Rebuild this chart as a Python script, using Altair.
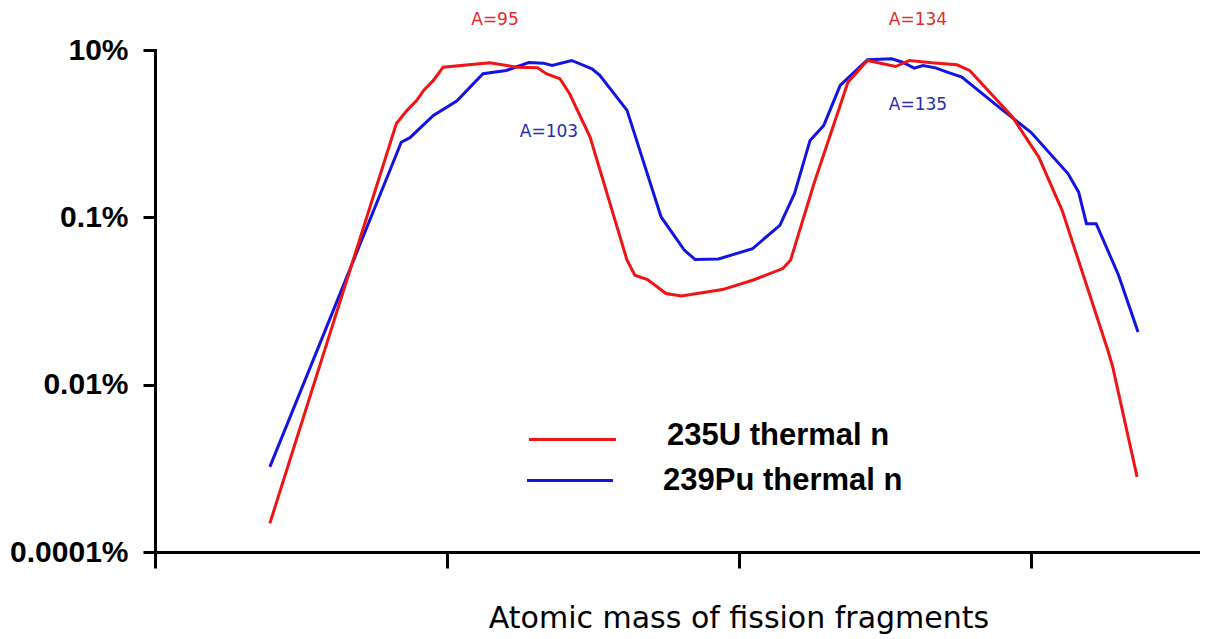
import altair as alt
import pandas as pd

# ---- data ----
u235_mass = [71.8, 84.8, 85.9, 86.9, 87.6, 88.6, 89.6, 94.4, 97.2, 99.3, 100.2, 101.6,
             102.6, 104.7, 108.5, 109.3, 110.6, 112.5, 114.1, 118.3, 121.4, 124.5, 125.3,
             127.7, 131.2, 133.2, 136.1, 137.5, 139.8, 142.4, 143.7, 148.1, 150.8, 153.2,
             157.9, 158.4, 160.9]
u235_yield = [2.2e-5, 1.32, 1.90, 2.50, 3.28, 4.33, 6.24, 7.03, 6.24, 6.12, 5.20, 4.53,
              3.00, 0.91, 0.0307, 0.0203, 0.018, 0.0123, 0.0115, 0.0137, 0.0177, 0.0244, 0.0307,
              0.252, 4.13, 7.50, 6.35, 7.50, 7.03, 6.66, 5.69, 1.58, 0.525, 0.121,
              0.00258, 0.00163, 7.9e-5]

pu239_mass = [71.8, 77.5, 85.3, 86.2, 88.6, 91.0, 93.7, 96.1, 98.4, 99.9, 100.8, 102.8,
              104.9, 105.7, 108.5, 112.0, 114.4, 115.5, 117.9, 121.4, 124.2, 125.7, 127.3,
              128.7, 130.4, 133.2, 135.7, 136.8, 138.0, 138.9, 140.2, 141.4, 142.9, 146.9,
              150.0, 153.8, 154.9, 155.7, 156.7, 159.0, 161.0]
pu239_yield = [1.04e-4, 0.00448, 0.79, 0.895, 1.65, 2.45, 5.20, 5.69, 7.09, 6.96, 6.53, 7.50,
               5.97, 4.97, 1.90, 0.101, 0.0404, 0.0313, 0.0318, 0.0423, 0.0802, 0.192, 0.830,
               1.25, 3.77, 7.64, 7.86, 7.14, 6.07, 6.53, 6.12, 5.43, 4.73, 1.99,
               1.04, 0.333, 0.200, 0.0841, 0.0841, 0.0203, 0.00427]

series_names = ["235U thermal n", "239Pu thermal n"]
peak_labels = ["A=95", "A=134", "A=103", "A=135"]

x_tick_values = [60, 90, 120, 150]
y_tick_values = [10, 0.1, 0.001, 0.00001]
y_tick_labels = ["10%", "0.1%", "0.01%", "0.0001%"]

x_title = "Atomic mass of fission fragments"

RED = "#f01414"
BLUE = "#1414e0"
RED_TXT = "#e82828"
BLUE_TXT = "#2a2ab0"

W, H = 1045, 502

u_df = pd.DataFrame({"A": u235_mass, "Y": u235_yield})
p_df = pd.DataFrame({"A": pu239_mass, "Y": pu239_yield})

# label expression built from the tick label list
expr = "'" + y_tick_labels[-1] + "'"
for v, lab in reversed(list(zip(y_tick_values[:-1], y_tick_labels[:-1]))):
    expr = f"datum.value > {v/3} ? '{lab}' : " + expr

x_scale = alt.Scale(domain=[60, 60 + W / 9.733], nice=False, zero=False)
y_scale = alt.Scale(type="log", domain=[1e-5, 10], nice=False)

x_axis = alt.Axis(values=x_tick_values, labels=False, grid=False, title=x_title,
                  domainColor="black", domainWidth=3, domainCap="square",
                  tickColor="black", tickWidth=3, tickSize=16,
                  titleFont="DejaVu Sans", titleFontSize=30, titleFontWeight="normal",
                  titleColor="black", titleX=583.5, titleY=75, titleAlign="center",
                  titleBaseline="alphabetic")
y_axis = alt.Axis(values=y_tick_values, labelExpr=expr, grid=False, title=None,
                  domainColor="black", domainWidth=3, domainCap="square",
                  tickColor="black", tickWidth=3, tickSize=12,
                  labelFont="Liberation Sans", labelFontWeight="bold", labelFontSize=30,
                  labelColor="black", labelPadding=15, labelOverlap=False)

pu_line = alt.Chart(p_df).mark_line(color=BLUE, strokeWidth=3).encode(
    x=alt.X("A:Q", scale=x_scale, axis=x_axis),
    y=alt.Y("Y:Q", scale=y_scale, axis=y_axis),
)
u_line = alt.Chart(u_df).mark_line(color=RED, strokeWidth=3).encode(
    x=alt.X("A:Q", scale=x_scale),
    y=alt.Y("Y:Q", scale=y_scale),
)

one = alt.Data(values=[{"k": 1}])


def text(t, x, y, color, size, font, weight="normal", align="center"):
    return alt.Chart(one).mark_text(
        text=t, align=align, baseline="alphabetic", font=font, fontSize=size,
        fontWeight=weight, color=color
    ).encode(x=alt.value(x), y=alt.value(y))


def rule(x1, x2, y, color):
    return alt.Chart(one).mark_rule(color=color, strokeWidth=3).encode(
        x=alt.value(x1), x2=alt.value(x2), y=alt.value(y))


annots = [
    text(peak_labels[0], 340, -25, RED_TXT, 17, "DejaVu Sans"),
    text(peak_labels[1], 763, -25, RED_TXT, 17, "DejaVu Sans"),
    text(peak_labels[2], 394, 86.7, BLUE_TXT, 17, "DejaVu Sans"),
    text(peak_labels[3], 763, 60, BLUE_TXT, 17, "DejaVu Sans"),
    rule(374, 461, 389.5, RED),
    rule(372, 458, 430.5, BLUE),
    text(series_names[0], 512, 395, "black", 31, "Liberation Sans", "bold", "left"),
    text(series_names[1], 508, 440, "black", 31, "Liberation Sans", "bold", "left"),
]

chart = alt.layer(pu_line, u_line, *annots).properties(
    width=W, height=H,
    background="white",
    autosize=alt.AutoSizeParams(type="none"),
    padding={"left": 147, "top": 42, "right": 0, "bottom": 86},
).configure_view(stroke=None)

chart.save("out.html", embed_options={"renderer": "svg", "actions": False})
